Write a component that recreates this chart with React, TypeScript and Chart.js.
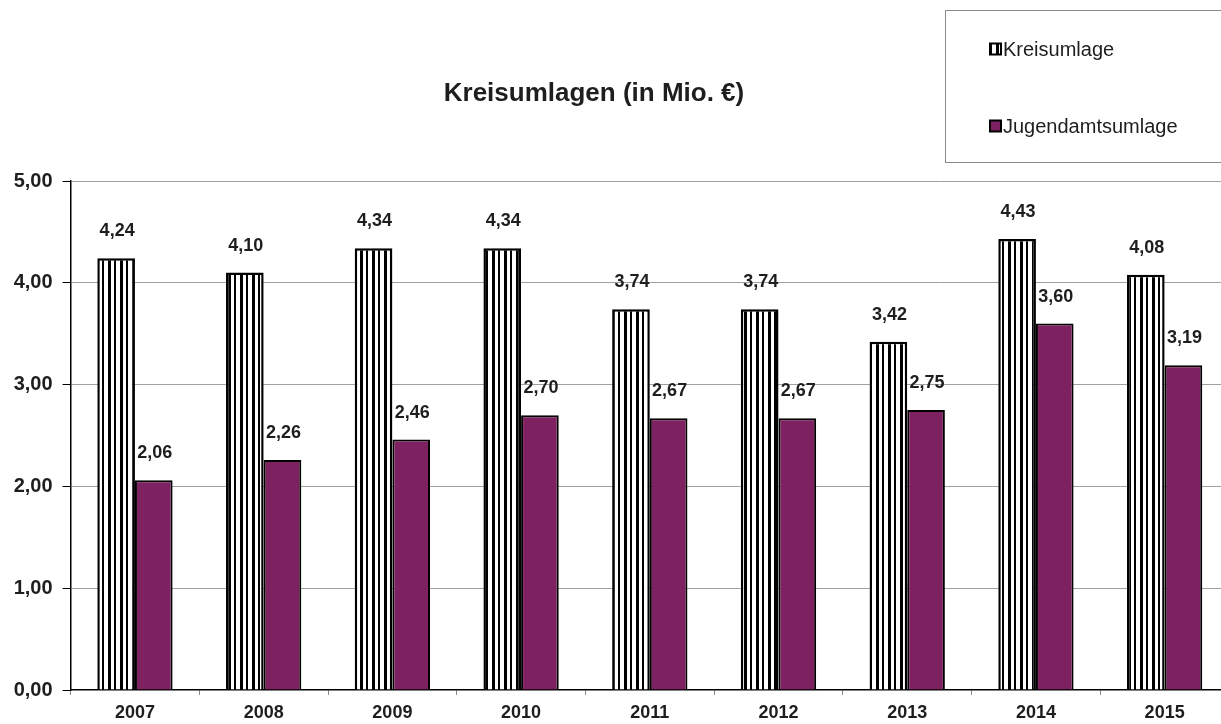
import React, { useEffect, useRef } from "react";
import { Chart, registerables } from "chart.js";

Chart.register(...registerables);

const years = ["2007", "2008", "2009", "2010", "2011", "2012", "2013", "2014", "2015"];
const kreisumlage = [4.24, 4.1, 4.34, 4.34, 3.74, 3.74, 3.42, 4.43, 4.08];
const jugendamtsumlage = [2.06, 2.26, 2.46, 2.7, 2.67, 2.67, 2.75, 3.6, 3.19];
const seriesNames = ["Kreisumlage", "Jugendamtsumlage"];
const chartTitle = "Kreisumlagen (in Mio. €)";

const PURPLE = "#7e2160";
const TEXT = "#1e1e1e";
const FONT = "'Liberation Sans', Arial, sans-serif";

const fmt = (v: number) => v.toFixed(2).replace(".", ",");

// vertical black/white hatch used for the Kreisumlage bars
function makeStripes(): CanvasPattern | string {
  const c = document.createElement("canvas");
  c.width = 12;
  c.height = 4;
  const g = c.getContext("2d");
  if (!g) return "#000";
  g.fillStyle = "#ffffff";
  g.fillRect(0, 0, 12, 4);
  g.fillStyle = "#000000";
  g.fillRect(0, 0, 3, 4);
  g.fillRect(6, 0, 2, 4);
  return g.createPattern(c, "repeat") || "#000";
}

const overlayPlugin = {
  id: "overlay",
  afterDatasetsDraw(chart: any) {
    const ctx = chart.ctx;
    ctx.save();
    // value labels above the bars
    ctx.font = `bold 18px ${FONT}`;
    ctx.fillStyle = TEXT;
    ctx.textAlign = "center";
    ctx.textBaseline = "alphabetic";
    chart.data.datasets.forEach((ds: any, di: number) => {
      const meta = chart.getDatasetMeta(di);
      meta.data.forEach((bar: any, i: number) => {
        ctx.fillText(fmt(ds.data[i]), bar.x + 1, bar.y - 22);
      });
    });
    // title
    ctx.font = `bold 26px ${FONT}`;
    ctx.fillText(chartTitle, 594, 101);
    // legend box
    ctx.strokeStyle = "#8a8a8a";
    ctx.lineWidth = 1;
    ctx.strokeRect(945.5, 10.5, 300, 152);
    const swatches = [chart.data.datasets[0].backgroundColor, PURPLE];
    const ys = [49, 126];
    ctx.font = `20px ${FONT}`;
    ctx.textAlign = "left";
    ctx.textBaseline = "middle";
    seriesNames.forEach((name, i) => {
      ctx.fillStyle = swatches[i];
      ctx.fillRect(990, ys[i] - 5.5, 11, 11);
      ctx.strokeStyle = "#000";
      ctx.lineWidth = 2;
      ctx.strokeRect(990, ys[i] - 5.5, 11, 11);
      ctx.fillStyle = TEXT;
      ctx.fillText(name, 1003, ys[i] + 1);
    });
    ctx.restore();
  },
};

export default function App() {
  const ref = useRef<HTMLCanvasElement>(null);

  useEffect(() => {
    document.body.style.margin = "0";
    const canvas = ref.current;
    if (!canvas) return;
    const stripes = makeStripes();
    const chart = new Chart(canvas, {
      type: "bar",
      data: {
        labels: years,
        datasets: [
          {
            label: seriesNames[0],
            data: kreisumlage,
            backgroundColor: stripes as any,
            borderColor: "#000",
            borderWidth: 2.5,
          },
          {
            label: seriesNames[1],
            data: jugendamtsumlage,
            backgroundColor: PURPLE,
            borderColor: "#000",
            borderWidth: 2,
          },
        ],
      },
      options: {
        animation: false,
        responsive: false,
        layout: { padding: { top: 181, left: 0, right: 0, bottom: 0 } },
        plugins: {
          legend: { display: false },
          title: { display: false },
          tooltip: { enabled: false },
        },
        datasets: {
          bar: { categoryPercentage: 0.585, barPercentage: 1 },
        },
        scales: {
          x: {
            grid: {
              offset: true,
              drawOnChartArea: false,
              drawTicks: true,
              tickLength: 5,
              tickColor: "#888",
            },
            border: { color: "#000", width: 1.5 },
            ticks: {
              color: TEXT,
              font: { family: FONT, size: 18, weight: "bold" },
              padding: 7,
            },
            afterFit: (s: any) => {
              s.height = 34;
            },
          },
          y: {
            min: 0,
            max: 5,
            ticks: {
              stepSize: 1,
              color: TEXT,
              font: { family: FONT, size: 20, weight: "bold" },
              padding: 10,
              callback: (v: any) => fmt(Number(v)),
            },
            grid: {
              color: (c: any) => (c.tick && c.tick.value === 0 ? "rgba(0,0,0,0)" : "#a0a0a0"),
              tickColor: "#000",
              tickLength: 8,
              lineWidth: 1,
            },
            border: { color: "#000", width: 1.5 },
            afterFit: (s: any) => {
              s.width = 70.6;
            },
          },
        },
      },
      plugins: [overlayPlugin],
    });
    return () => chart.destroy();
  }, []);

  return (
    <div
      style={{
        position: "fixed",
        left: 0,
        top: 0,
        width: 1221,
        height: 724,
        overflow: "hidden",
        background: "#fff",
      }}
    >
      <canvas ref={ref} width={1229} height={724} style={{ width: 1229, height: 724, display: "block" }} />
    </div>
  );
}
